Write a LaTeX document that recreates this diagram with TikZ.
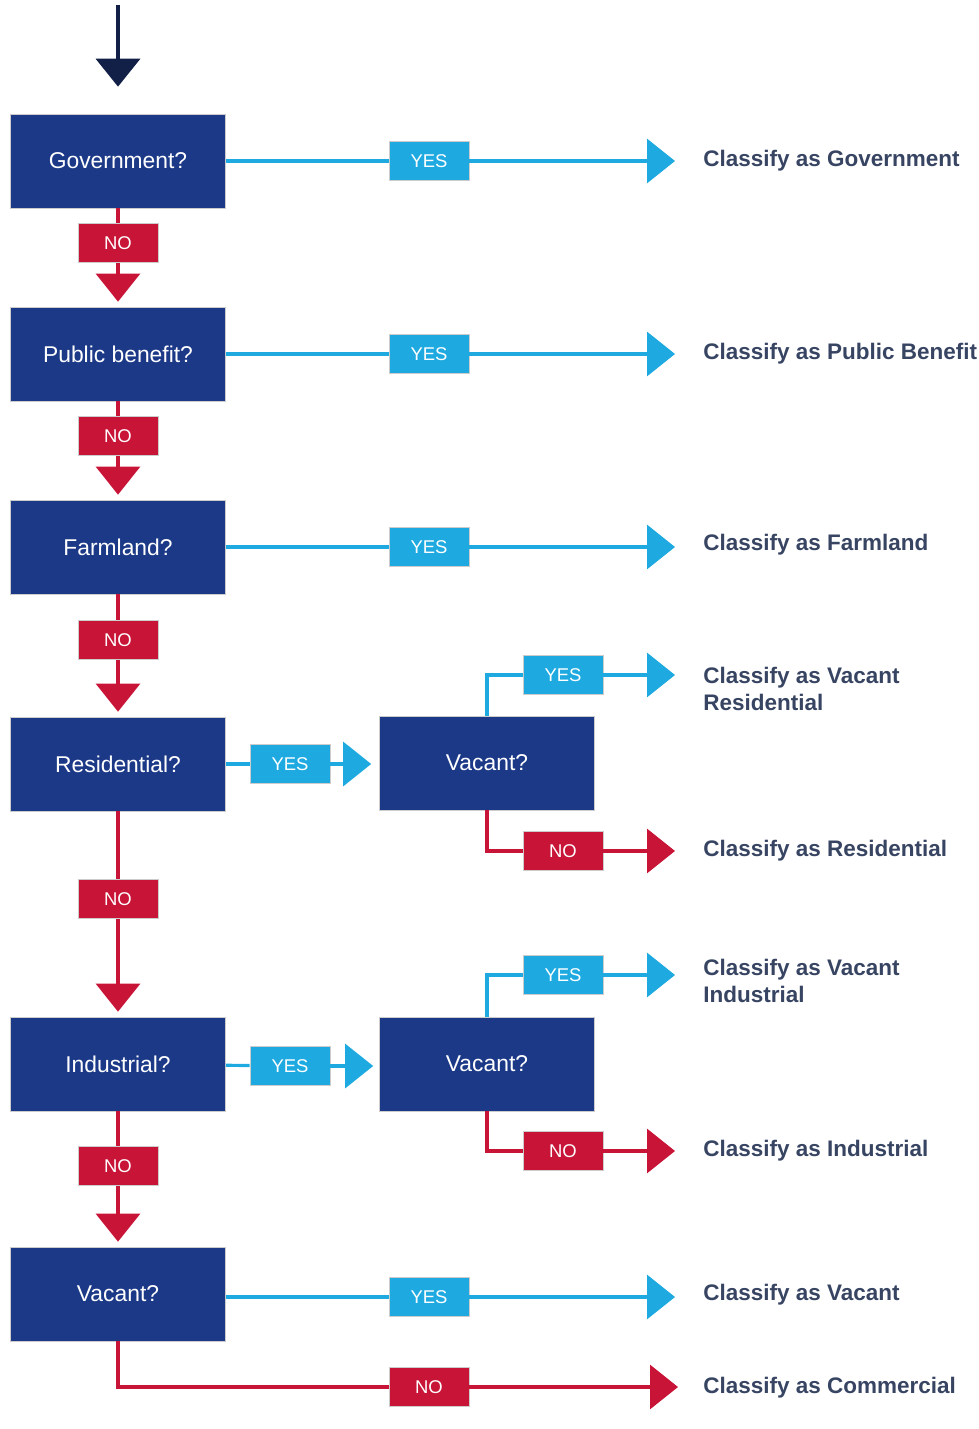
\documentclass[tikz,border=0pt]{standalone}
\usepackage{fontspec}
\setmainfont{Liberation Sans}
\usetikzlibrary{arrows.meta}
\definecolor{navy}{RGB}{27,57,135}
\definecolor{sky}{RGB}{30,170,225}
\definecolor{crim}{RGB}{200,20,55}
\definecolor{ink}{RGB}{55,68,98}
\definecolor{topnavy}{RGB}{18,32,72}
\begin{document}
\begin{tikzpicture}[x=0.02cm,y=-0.02cm,
qbox/.style={fill=navy,draw=gray!40,text=white,minimum width=4.3cm,minimum height=1.88cm,font=\fontsize{13}{15}\selectfont},
yesbox/.style={fill=sky,draw=gray!40,text=white,minimum width=1.6cm,minimum height=0.78cm,font=\fontsize{10.5}{12}\selectfont},
nobox/.style={yesbox,fill=crim},
res/.style={anchor=west,inner sep=0,text=ink,font=\fontsize{12.8}{15}\selectfont\bfseries},
yl/.style={sky,line width=1.8pt},
nl/.style={crim,line width=1.8pt},
tip/.style={-{Triangle[length=0.56cm,width=0.88cm]}}]
\useasboundingbox(0,0)rectangle(979,1429);
\node[qbox](gov)at(118,161){Government?};
\node[qbox](pub)at(118,354){Public benefit?};
\node[qbox](farm)at(118,547){Farmland?};
\node[qbox](resi)at(118,764){Residential?};
\node[qbox](vacr)at(487,763){Vacant?};
\node[qbox](indu)at(118,1064){Industrial?};
\node[qbox](vaci)at(487,1064){Vacant?};
\node[qbox](vac)at(118,1294){Vacant?};
\node[yesbox](y1)at(429,161){YES};
\node[yesbox](y2)at(429,354){YES};
\node[yesbox](y3)at(429,547){YES};
\node[yesbox](y4)at(290,764){YES};
\node[yesbox](y5)at(563,675){YES};
\node[yesbox](y6)at(290,1066){YES};
\node[yesbox](y7)at(563,975){YES};
\node[yesbox](y8)at(429,1297){YES};
\node[nobox](n1)at(118,243){NO};
\node[nobox](n2)at(118,436){NO};
\node[nobox](n3)at(118,640){NO};
\node[nobox](n4)at(563,851){NO};
\node[nobox](n5)at(118,899){NO};
\node[nobox](n6)at(563,1151){NO};
\node[nobox](n7)at(118,1166){NO};
\node[nobox](n8)at(429,1387){NO};
\node[res](cgov)at(703,161){Classify as Government};
\node[res](cpub)at(703,354){Classify as Public Benefit};
\node[res](cfarm)at(703,545){Classify as Farmland};
\node[res,anchor=north west,align=left](cvr)at(703,667){Classify as Vacant\\Residential};
\node[res](cr)at(703,851){Classify as Residential};
\node[res,anchor=north west,align=left](cvi)at(703,959){Classify as Vacant\\Industrial};
\node[res](ci)at(703,1151){Classify as Industrial};
\node[res](cv)at(703,1295){Classify as Vacant};
\node[res](cc)at(703,1388){Classify as Commercial};
\coordinate(start)at(118,5);
\draw[topnavy,line width=2.2pt,tip,shorten >=0.54cm](start)--(gov);
\draw[yl](gov)--(y1);
\draw[yl,tip,shorten >=0.56cm](y1)--(y1-|cgov.west);
\draw[yl](pub)--(y2);
\draw[yl,tip,shorten >=0.56cm](y2)--(y2-|cpub.west);
\draw[yl](farm)--(y3);
\draw[yl,tip,shorten >=0.56cm](y3)--(y3-|cfarm.west);
\draw[nl](gov)--(n1);
\draw[nl,tip,shorten >=0.1cm](n1)--(pub);
\draw[nl](pub)--(n2);
\draw[nl,tip,shorten >=0.1cm](n2)--(farm);
\draw[nl](farm)--(n3);
\draw[nl,tip,shorten >=0.1cm](n3)--(resi);
\draw[yl](resi)--(y4);
\draw[yl,tip,shorten >=0.16cm](y4)--(y4-|vacr.west);
\draw[yl](vacr.north)|-(y5);
\draw[yl,tip,shorten >=0.56cm](y5)--(y5-|cvr.west);
\draw[nl](vacr.south)|-(n4);
\draw[nl,tip,shorten >=0.56cm](n4)--(n4-|cr.west);
\draw[nl](resi)--(n5);
\draw[nl,tip,shorten >=0.1cm](n5)--(indu);
\draw[yl](indu)--(y6);
\draw[yl,tip,shorten >=0.12cm](y6)--(y6-|vaci.west);
\draw[yl](vaci.north)|-(y7);
\draw[yl,tip,shorten >=0.56cm](y7)--(y7-|cvi.west);
\draw[nl](vaci.south)|-(n6);
\draw[nl,tip,shorten >=0.56cm](n6)--(n6-|ci.west);
\draw[nl](indu)--(n7);
\draw[nl,tip,shorten >=0.1cm](n7)--(vac);
\draw[yl](vac.east|-y8)--(y8);
\draw[yl,tip,shorten >=0.56cm](y8)--(y8-|cv.west);
\draw[nl](vac.south)|-(n8);
\draw[nl,tip,shorten >=0.5cm](n8)--(n8-|cc.west);
\end{tikzpicture}
\end{document}
